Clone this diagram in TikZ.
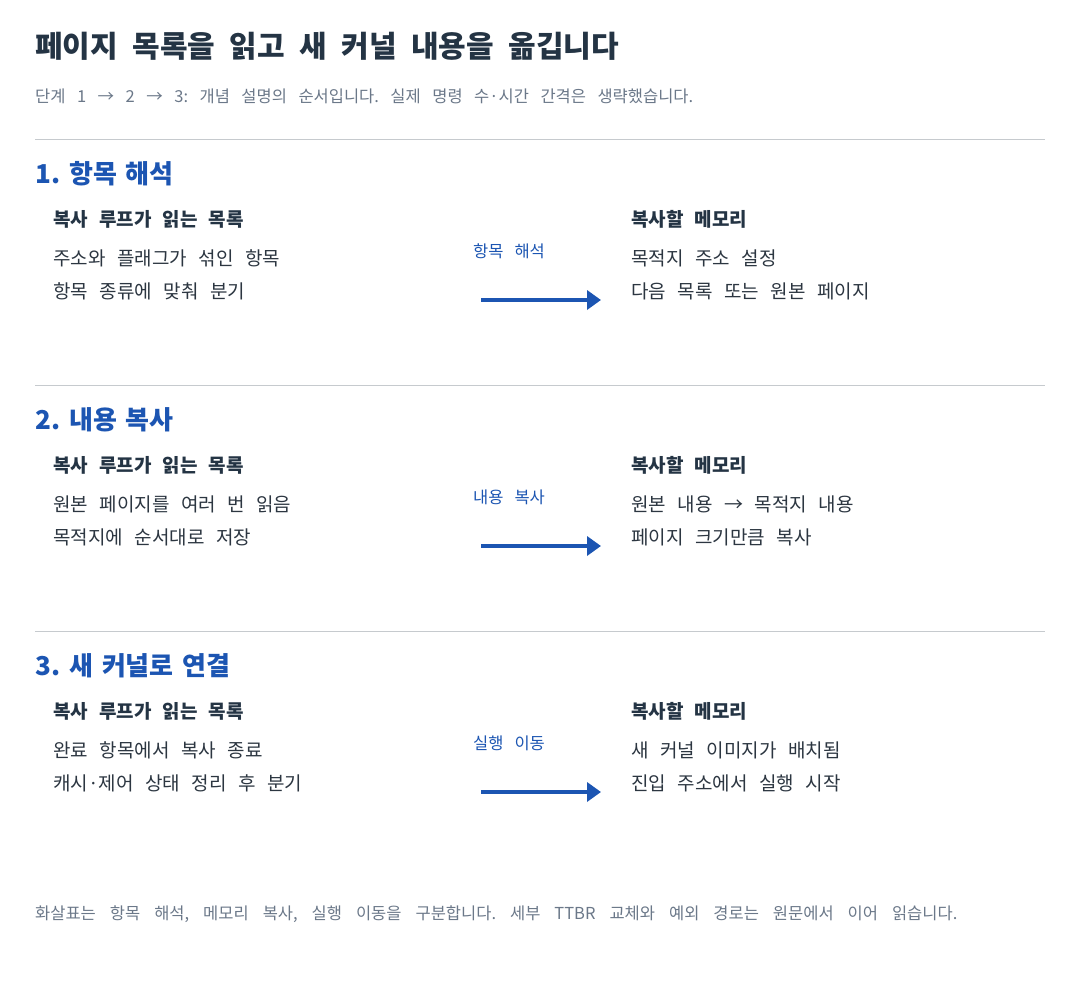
\documentclass[tikz,border=0pt]{standalone}
\usepackage{fontspec}
\setmainfont{Noto Sans CJK KR}
\usetikzlibrary{arrows.meta}
\definecolor{inkdark}{HTML}{243444}
\definecolor{inkbody}{HTML}{2C3641}
\definecolor{inkgray}{HTML}{6B7889}
\definecolor{inkblue}{HTML}{1C55B2}
\definecolor{rulegray}{HTML}{C6CACE}
% fixed word gaps: \gapfont{size}{gap}
\newcommand\gapfont[2]{\fontsize{#1}{#1}\selectfont\spaceskip=#2\xspaceskip=#2}
\tikzset{
  pagetitle/.style={anchor=west, inner sep=0pt, text=inkdark, font=\gapfont{30pt}{14.5pt}\bfseries},
  note/.style={anchor=west, inner sep=0pt, text=inkgray, font=\gapfont{16.5pt}{11.5pt}},
  head/.style={anchor=west, inner sep=0pt, text=inkblue, font=\gapfont{26pt}{9pt}\bfseries},
  sub/.style={anchor=west, inner sep=0pt, text=inkdark, font=\gapfont{19pt}{11pt}\bfseries},
  body/.style={anchor=west, inner sep=0pt, text=inkbody, font=\gapfont{19pt}{11.5pt}},
  tag/.style={anchor=west, inner sep=0pt, text=inkblue, font=\gapfont{16.5pt}{11pt}},
  footnote/.style={anchor=west, inner sep=0pt, text=inkgray, font=\gapfont{16.5pt}{14pt}},
  rule/.style={draw=rulegray, line width=1pt},
  flow/.style={draw=inkblue, line width=4.5pt, -{Triangle[length=14pt, width=19pt]}}
}

\begin{document}
\begin{tikzpicture}[x=1pt, y=-1pt]
  \useasboundingbox[fill=white] (0,0) rectangle (1080,990);
  % title
  \node[pagetitle] (title) at (35,46) {페이지 목록을 읽고 새 커널 내용을 옮깁니다};
  \node[note] (intro) at (35,96) {단계 1 → 2 → 3: 개념 설명의 순서입니다. 실제 명령 수·시간 간격은 생략했습니다.};

  % section 1
  \draw[rule] (35,139) -- (1045,139);
  \node[head] (h1) at (35,174) {1. 항목 해석};
  \node[sub] (l1) at (53,219) {복사 루프가 읽는 목록};
  \node[body] (l1a) at (53,258) {주소와 플래그가 섞인 항목};
  \node[body] (l1b) at (53,291) {항목 종류에 맞춰 분기};
  \node[tag] (t1) at (473,251) {항목 해석};
  \coordinate (s1) at (481,300);
  \coordinate (e1) at (601,300);
  \draw[flow] (s1) -- (e1);
  \node[sub] (r1) at (631,219) {복사할 메모리};
  \node[body] (r1a) at (631,258) {목적지 주소 설정};
  \node[body] (r1b) at (631,291) {다음 목록 또는 원본 페이지};

  % section 2
  \draw[rule] (35,385) -- (1045,385);
  \node[head] (h2) at (35,420) {2. 내용 복사};
  \node[sub] (l2) at (53,465) {복사 루프가 읽는 목록};
  \node[body] (l2a) at (53,504) {원본 페이지를 여러 번 읽음};
  \node[body] (l2b) at (53,537) {목적지에 순서대로 저장};
  \node[tag] (t2) at (473,497) {내용 복사};
  \coordinate (s2) at (481,546);
  \coordinate (e2) at (601,546);
  \draw[flow] (s2) -- (e2);
  \node[sub] (r2) at (631,465) {복사할 메모리};
  \node[body] (r2a) at (631,504) {원본 내용 → 목적지 내용};
  \node[body] (r2b) at (631,537) {페이지 크기만큼 복사};

  % section 3
  \draw[rule] (35,631) -- (1045,631);
  \node[head] (h3) at (35,666) {3. 새 커널로 연결};
  \node[sub] (l3) at (53,711) {복사 루프가 읽는 목록};
  \node[body] (l3a) at (53,750) {완료 항목에서 복사 종료};
  \node[body] (l3b) at (53,783) {캐시·제어 상태 정리 후 분기};
  \node[tag] (t3) at (473,743) {실행 이동};
  \coordinate (s3) at (481,792);
  \coordinate (e3) at (601,792);
  \draw[flow] (s3) -- (e3);
  \node[sub] (r3) at (631,711) {복사할 메모리};
  \node[body] (r3a) at (631,750) {새 커널 이미지가 배치됨};
  \node[body] (r3b) at (631,783) {진입 주소에서 실행 시작};

  % footer
  \node[footnote] (foot) at (35,914) {화살표는 항목 해석, 메모리 복사, 실행 이동을 구분합니다. 세부 TTBR 교체와 예외 경로는 원문에서 이어 읽습니다.};
\end{tikzpicture}
\end{document}
